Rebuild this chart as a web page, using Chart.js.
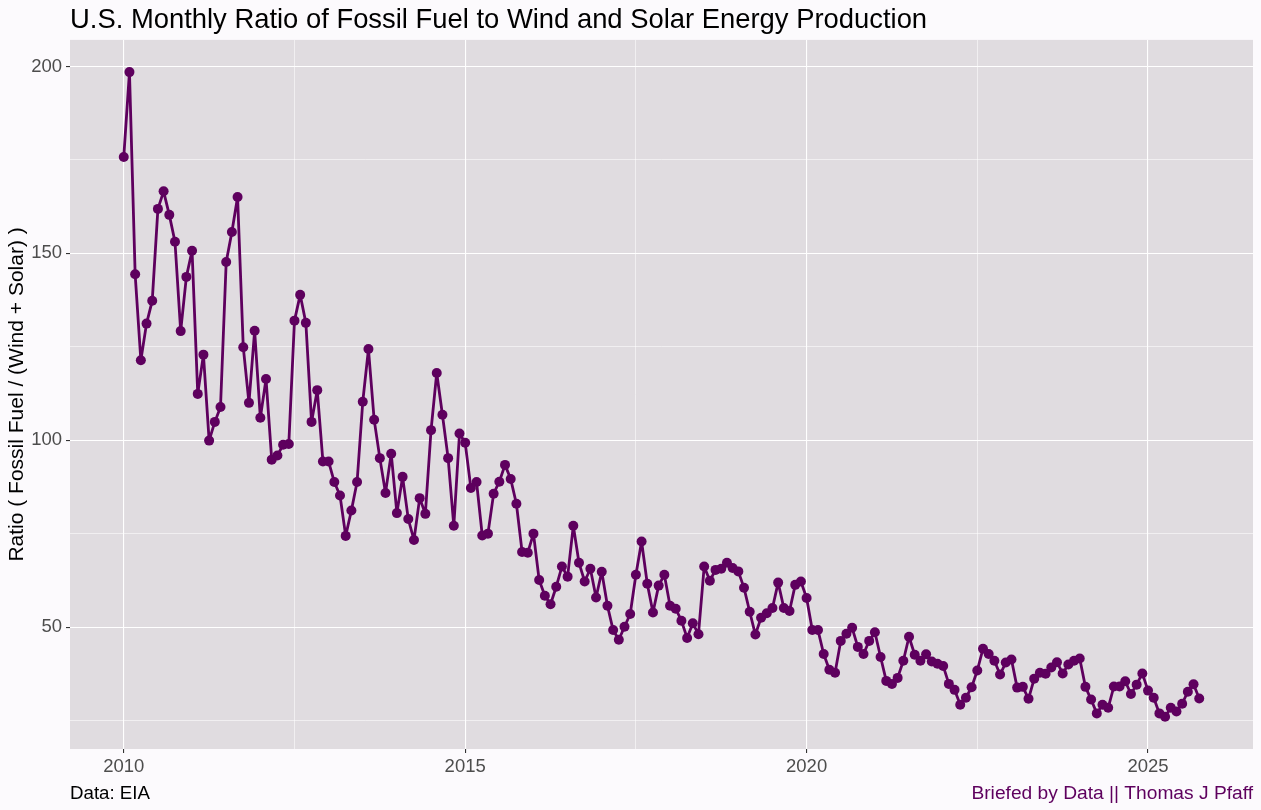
<!DOCTYPE html>
<html>
<head>
<meta charset="utf-8">
<title>U.S. Monthly Ratio of Fossil Fuel to Wind and Solar Energy Production</title>
<script src="https://cdn.jsdelivr.net/npm/chart.js@4.4.1/dist/chart.umd.min.js"></script>
<style>
  html, body { margin: 0; padding: 0; background: #FCFAFD; }
  #wrap { position: relative; width: 1261px; height: 810px; }
</style>
</head>
<body>
<div id="wrap"><canvas id="ratio-chart" width="1261" height="810"></canvas></div>
<script>
// Monthly ratio values, one array per year (Jan..Dec)
const ratio2010 = [175.8, 198.5, 144.4, 121.4, 131.2, 137.3, 161.9, 166.6, 160.3, 153.1, 129.2, 143.7];
const ratio2011 = [150.7, 112.4, 122.9, 99.9, 104.9, 108.9, 147.7, 155.7, 165.1, 124.9, 110.0, 129.3];
const ratio2012 = [106.0, 116.4, 94.8, 95.9, 98.8, 99.0, 132.0, 138.9, 131.4, 104.9, 113.4, 94.3];
const ratio2013 = [94.3, 88.8, 85.2, 74.4, 81.2, 88.8, 110.3, 124.4, 105.5, 95.2, 85.9, 96.4];
const ratio2014 = [80.5, 90.2, 78.9, 73.3, 84.5, 80.3, 102.7, 118.0, 106.8, 95.2, 77.1, 101.8];
const ratio2015 = [99.3, 87.2, 88.8, 74.5, 75.0, 85.7, 88.9, 93.4, 89.6, 83.0, 70.1, 69.9];
const ratio2016 = [75.0, 62.6, 58.4, 56.1, 60.8, 66.2, 63.5, 77.1, 67.2, 62.2, 65.6, 57.9];
const ratio2017 = [64.8, 55.7, 49.2, 46.6, 50.1, 53.5, 64.0, 72.9, 61.6, 53.9, 61.1, 64.0];
const ratio2018 = [55.7, 54.9, 51.7, 47.1, 51.0, 48.1, 66.2, 62.4, 65.3, 65.6, 67.2, 65.8];
const ratio2019 = [64.9, 60.5, 54.1, 48.0, 52.5, 53.7, 55.1, 61.9, 55.1, 54.3, 61.3, 62.2];
const ratio2020 = [57.8, 49.2, 49.2, 42.8, 38.6, 37.8, 46.3, 48.2, 49.8, 44.7, 42.8, 46.3];
const ratio2021 = [48.6, 42.0, 35.6, 34.8, 36.4, 41.0, 47.4, 42.6, 41.0, 42.7, 40.8, 40.2];
const ratio2022 = [39.6, 34.8, 33.2, 29.2, 31.1, 33.9, 38.4, 44.2, 42.8, 41.0, 37.3, 40.5];
const ratio2023 = [41.3, 33.8, 34.0, 30.8, 36.2, 37.8, 37.5, 39.2, 40.6, 37.6, 40.0, 41.0];
const ratio2024 = [41.6, 34.0, 30.6, 26.9, 29.2, 28.4, 34.1, 34.1, 35.5, 32.1, 34.6, 37.6];
const ratio2025 = [33.0, 31.1, 26.9, 26.0, 28.4, 27.4, 29.5, 32.7, 34.7, 30.9];

const years = [2010, 2011, 2012, 2013, 2014, 2015, 2016, 2017, 2018, 2019, 2020, 2021, 2022, 2023, 2024, 2025];
const yearValues = [ratio2010, ratio2011, ratio2012, ratio2013, ratio2014, ratio2015, ratio2016, ratio2017,
                    ratio2018, ratio2019, ratio2020, ratio2021, ratio2022, ratio2023, ratio2024, ratio2025];

const xTicks = [2010, 2012.5, 2015, 2017.5, 2020, 2022.5, 2025];
const yTicks = [25, 50, 75, 100, 125, 150, 175, 200];

const purple = '#5E005E';
const fontFamily = "'Liberation Sans', Arial, sans-serif";

// build {x, y} points, x as decimal year
const points = [];
years.forEach((yr, i) => {
  yearValues[i].forEach((v, m) => points.push({ x: yr + m / 12, y: v }));
});

// ggplot style 5% expansion
const xs = points.map(p => p.x), ys = points.map(p => p.y);
const xMin = Math.min(...xs), xMax = Math.max(...xs);
const yMin = Math.min(...ys), yMax = Math.max(...ys);
const xPad = (xMax - xMin) * 0.05, yPad = (yMax - yMin) * 0.05;

const isMajorX = v => v % 5 === 0;
const isMajorY = v => v % 50 === 0;

const panelBg = {
  id: 'panelBg',
  beforeDraw(chart) {
    const { ctx, chartArea: a } = chart;
    ctx.save();
    ctx.fillStyle = '#FCFAFD';
    ctx.fillRect(0, 0, chart.width, chart.height);
    ctx.fillStyle = '#E0DCE0';
    ctx.fillRect(a.left, a.top, a.right - a.left, a.bottom - a.top);
    ctx.restore();
  }
};

const captions = {
  id: 'captions',
  afterDraw(chart) {
    const { ctx, chartArea: a } = chart;
    ctx.save();
    ctx.textBaseline = 'alphabetic';
    ctx.font = '18.7px ' + fontFamily;
    ctx.textAlign = 'left';
    ctx.fillStyle = '#000000';
    ctx.fillText('Data: EIA', a.left, 799);
    ctx.font = '19.2px ' + fontFamily;
    ctx.textAlign = 'right';
    ctx.fillStyle = purple;
    ctx.fillText('Briefed by Data || Thomas J Pfaff', a.right, 799);
    ctx.restore();
  }
};

const ctx = document.getElementById('ratio-chart').getContext('2d');
new Chart(ctx, {
  type: 'line',
  data: {
    datasets: [{
      label: 'Ratio',
      data: points,
      borderColor: purple,
      backgroundColor: purple,
      borderWidth: 2.8,
      borderJoinStyle: 'round',
      borderCapStyle: 'round',
      pointRadius: 5,
      pointBackgroundColor: purple,
      pointBorderWidth: 0,
      tension: 0
    }]
  },
  options: {
    responsive: false,
    animation: false,
    layout: { padding: { left: 0, right: 8, top: 0, bottom: 27 } },
    scales: {
      x: {
        type: 'linear',
        min: xMin - xPad,
        max: xMax + xPad,
        afterBuildTicks: s => { s.ticks = xTicks.map(v => ({ value: v })); },
        afterFit: s => { s.height = 34; },
        border: { display: false },
        grid: {
          color: '#FFFFFF',
          lineWidth: c => isMajorX(c.tick.value) ? 1.1 : 0.55,
          tickColor: c => isMajorX(c.tick.value) ? '#333333' : 'rgba(0,0,0,0)',
          tickLength: 4
        },
        ticks: {
          autoSkip: false, maxRotation: 0, padding: 3,
          color: '#4D4D4D', font: { family: fontFamily, size: 18.5 },
          callback: v => isMajorX(v) ? String(v) : ''
        }
      },
      y: {
        min: yMin - yPad,
        max: yMax + yPad,
        afterBuildTicks: s => { s.ticks = yTicks.map(v => ({ value: v })); },
        afterFit: s => { s.width = 70; },
        border: { display: false },
        grid: {
          color: '#FFFFFF',
          lineWidth: c => isMajorY(c.tick.value) ? 1.1 : 0.55,
          tickColor: c => isMajorY(c.tick.value) ? '#333333' : 'rgba(0,0,0,0)',
          tickLength: 4
        },
        ticks: {
          autoSkip: false, padding: 4,
          color: '#4D4D4D', font: { family: fontFamily, size: 18.5 },
          callback: v => isMajorY(v) ? String(v) : ''
        },
        title: {
          display: true,
          text: 'Ratio ( Fossil Fuel / (Wind + Solar) )',
          color: '#000000',
          font: { family: fontFamily, size: 21 },
          padding: { top: 5, bottom: 0 }
        }
      }
    },
    plugins: {
      legend: { display: false },
      tooltip: { enabled: false },
      title: {
        display: true,
        text: 'U.S. Monthly Ratio of Fossil Fuel to Wind and Solar Energy Production',
        align: 'start',
        fullSize: false,
        color: '#000000',
        font: { family: fontFamily, size: 27.4, weight: 'normal' },
        padding: { top: 4, bottom: 3 }
      }
    }
  },
  plugins: [panelBg, captions]
});
</script>
</body>
</html>
